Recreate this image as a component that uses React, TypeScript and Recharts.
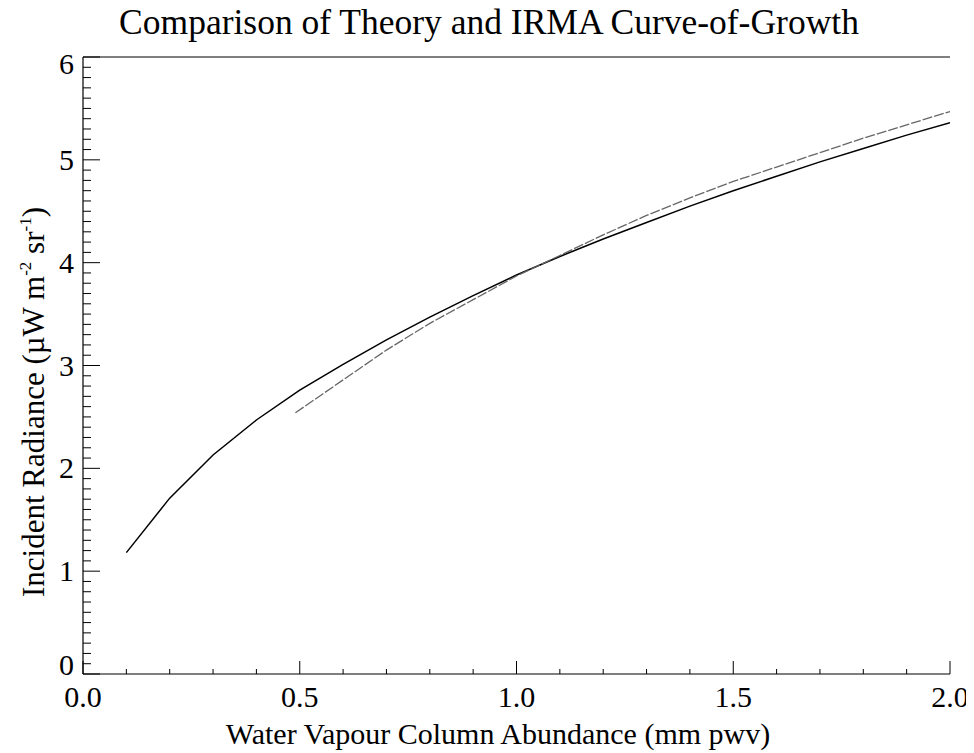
import { LineChart, Line, XAxis, YAxis } from "recharts";

// theory curve (solid)
const theoryX = [0.1, 0.2, 0.3, 0.4, 0.5, 0.6, 0.7, 0.8, 0.9, 1.0, 1.1, 1.2, 1.3, 1.4, 1.5, 1.6, 1.7, 1.8, 1.9, 2.0];
const theoryY = [1.18, 1.71, 2.13, 2.47, 2.76, 3.01, 3.25, 3.47, 3.68, 3.88, 4.06, 4.23, 4.39, 4.55, 4.7, 4.84, 4.98, 5.11, 5.24, 5.36];

// IRMA measurements (grey, broken)
const irmaX = [0.49, 0.6, 0.7, 0.8, 0.9, 1.0, 1.1, 1.2, 1.3, 1.4, 1.5, 1.6, 1.7, 1.8, 1.9, 2.0];
const irmaY = [2.54, 2.86, 3.15, 3.41, 3.64, 3.87, 4.07, 4.27, 4.46, 4.63, 4.79, 4.93, 5.07, 5.21, 5.34, 5.47];

const xTicks = Array.from({ length: 21 }, (_, i) => i / 10);
const yTicks = Array.from({ length: 61 }, (_, i) => i / 10);

const theoryData = theoryX.map((x, i) => ({ x, y: theoryY[i] }));
const irmaData = irmaX.map((x, i) => ({ x, y: irmaY[i] }));

const FONT = '"Liberation Serif", "Times New Roman", serif';

const isMajorX = (v: number) => Math.abs(v * 2 - Math.round(v * 2)) < 1e-6;
const isMajorY = (v: number) => Math.abs(v - Math.round(v)) < 1e-6;

function BottomTick(props: any) {
  const { x, y, payload } = props;
  const v = payload.value as number;
  const major = isMajorX(v);
  return (
    <g>
      <line x1={x} x2={x} y1={y} y2={y - (major ? 13 : 5)} stroke="#000" strokeWidth={1} />
      {major && (
        <text x={x} y={y + 33} textAnchor="middle" fontSize={30} fontFamily={FONT} fill="#000">
          {v.toFixed(1)}
        </text>
      )}
    </g>
  );
}

function TopTick(props: any) {
  const { x, y, payload } = props;
  const major = isMajorX(payload.value);
  return <line x1={x} x2={x} y1={y} y2={y + (major ? 13 : 5)} stroke="#000" strokeWidth={1} />;
}

function LeftTick(props: any) {
  const { x, y, payload } = props;
  const v = payload.value as number;
  const major = isMajorY(v);
  // labels at the ends sit inside the frame in the original
  const shift = v === 0 ? -9 : v === 6 ? 7 : 0;
  return (
    <g>
      <line x1={x} x2={x + (major ? 17 : 8)} y1={y} y2={y} stroke="#000" strokeWidth={1} />
      {major && (
        <text x={x - 9} y={y + shift + 10} textAnchor="end" fontSize={30} fontFamily={FONT} fill="#000">
          {Math.round(v)}
        </text>
      )}
    </g>
  );
}

function RightTick(props: any) {
  const { x, y, payload } = props;
  const major = isMajorY(payload.value);
  return <line x1={x} x2={x - (major ? 17 : 8)} y1={y} y2={y} stroke="#000" strokeWidth={1} />;
}

export default function App() {
  return (
    <div style={{ position: "relative", width: 966, height: 745 }}>
      <div
        style={{
          position: "absolute",
          left: 0,
          top: -6,
          width: 962,
          textAlign: "center",
          fontFamily: FONT,
          fontSize: 35.5,
          lineHeight: "40px",
          color: "#000",
        }}
      >
        Comparison of Theory and IRMA Curve-of-Growth
      </div>
      <LineChart width={966} height={745} margin={{ top: 48, right: 24, left: 0, bottom: 0 }}>
        <XAxis
          xAxisId="b"
          type="number"
          dataKey="x"
          domain={[0, 2]}
          ticks={xTicks}
          interval={0}
          allowDataOverflow
          height={79}
          tickSize={0}
          tickMargin={0}
          tickLine={false}
          tick={<BottomTick />}
          axisLine={{ stroke: "#000", strokeWidth: 1.2 }}
          label={{
            content: () => (
              <text x={490} y={736} textAnchor="middle" fontSize={30} fontFamily={FONT} fill="#000">
                Water Vapour Column Abundance (mm pwv)
              </text>
            ),
          }}
        />
        <XAxis
          xAxisId="t"
          orientation="top"
          type="number"
          dataKey="x"
          domain={[0, 2]}
          ticks={xTicks}
          interval={0}
          height={1}
          tickSize={0}
          tickMargin={0}
          tickLine={false}
          tick={<TopTick />}
          axisLine={{ stroke: "#000", strokeWidth: 1 }}
        />
        <YAxis
          yAxisId="l"
          type="number"
          domain={[0, 6]}
          ticks={yTicks}
          interval={0}
          allowDataOverflow
          width={75}
          tickSize={0}
          tickMargin={0}
          tickLine={false}
          tick={<LeftTick />}
          axisLine={{ stroke: "#000", strokeWidth: 1.2 }}
          label={{
            content: () => (
              <text
                x={0}
                y={0}
                transform="translate(36, 394) rotate(-90)"
                textAnchor="middle"
                fontSize={31}
                fontFamily={FONT}
                fill="#000"
              >
                Incident Radiance (µW m
                <tspan dy={-13} fontSize={17}>-2</tspan>
                <tspan dy={13}> sr</tspan>
                <tspan dy={-13} fontSize={17}>-1</tspan>
                <tspan dy={13}>)</tspan>
              </text>
            ),
          }}
        />
        <YAxis
          yAxisId="r"
          orientation="right"
          type="number"
          domain={[0, 6]}
          ticks={yTicks}
          interval={0}
          width={0}
          tickSize={0}
          tickMargin={0}
          tickLine={false}
          tick={<RightTick />}
          axisLine={{ stroke: "#000", strokeWidth: 1 }}
        />
        <Line
          xAxisId="b"
          yAxisId="l"
          data={theoryData}
          dataKey="y"
          type="linear"
          stroke="#000"
          strokeWidth={1.5}
          dot={false}
          isAnimationActive={false}
        />
        <Line
          xAxisId="b"
          yAxisId="l"
          data={irmaData}
          dataKey="y"
          type="linear"
          stroke="#666"
          strokeWidth={1.3}
          strokeDasharray="10 2"
          dot={false}
          isAnimationActive={false}
        />
      </LineChart>
    </div>
  );
}
